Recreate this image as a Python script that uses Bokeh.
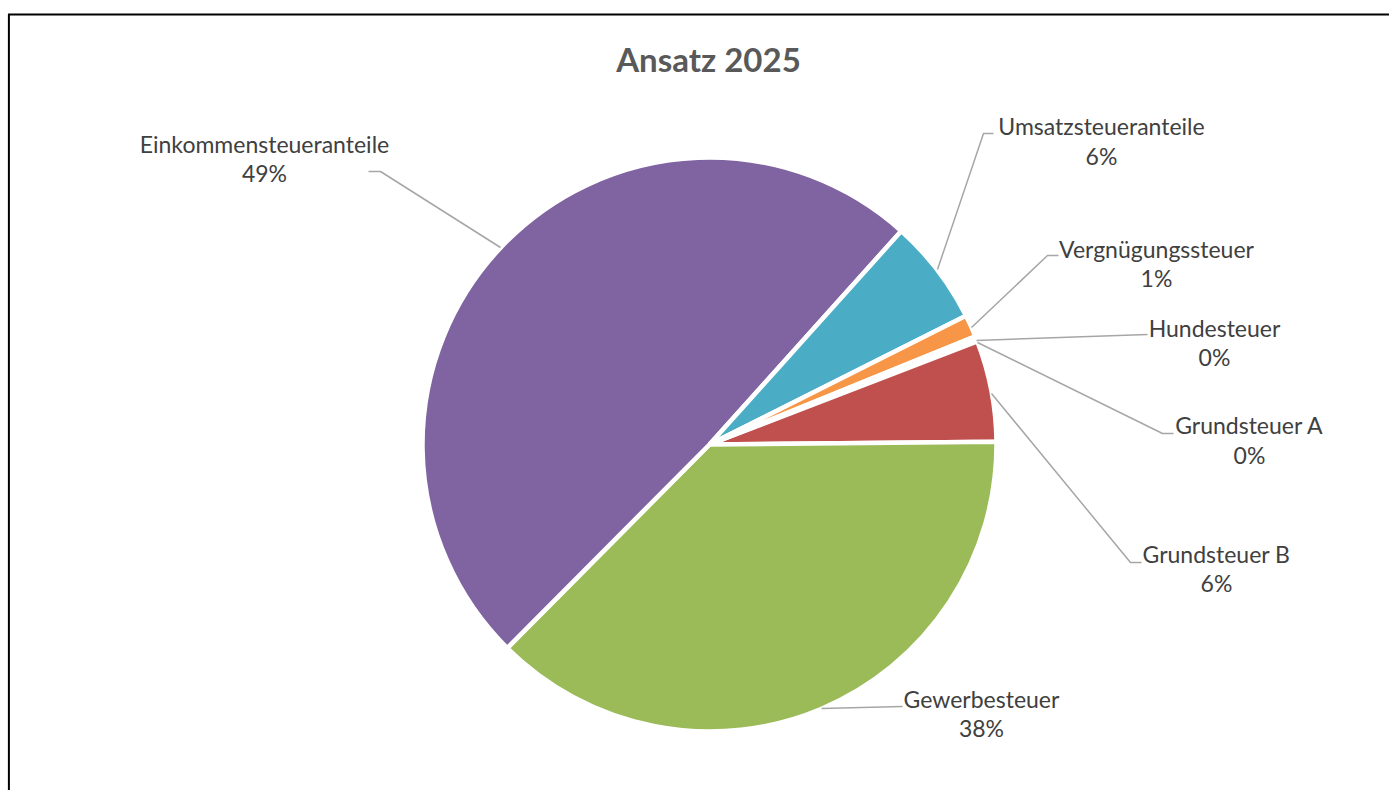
import math
from bokeh.plotting import figure
from bokeh.models import Range1d, ColumnDataSource
from bokeh.core.properties import value
from bokeh.embed import file_html
from bokeh.resources import INLINE

# ---- data ----
categories = ["Grundsteuer A", "Grundsteuer B", "Gewerbesteuer", "Einkommensteueranteile",
              "Umsatzsteueranteile", "Vergnügungssteuer", "Hundesteuer"]
shares = [0.15, 5.7, 37.6, 49.2, 5.95, 1.25, 0.15]
colors = ["#4F81BD", "#C0504D", "#9BBB59", "#8064A2", "#4BACC6", "#F79646", "#2C4D75"]
title_text = "Ansatz 2025"

# ---- layout (screen px) ----
W, H = 1389, 790
def sx(X): return X
def sy(Y): return H - Y

CX, CY, R = 709, 444, 287
first_angle_deg = 21.6

# label anchor: (center x, center y line1, center y line2)
label_pos = {
    "Einkommensteueranteile": (264, 143, 172),
    "Umsatzsteueranteile": (1101, 125.5, 155),
    "Vergnügungssteuer": (1156, 248.5, 277.5),
    "Hundesteuer": (1214, 327, 356),
    "Grundsteuer A": (1249, 424.5, 454.5),
    "Grundsteuer B": (1216, 553.5, 582.5),
    "Gewerbesteuer": (981, 698.5, 727.5),
}
leaders = {
    "Einkommensteueranteile": [(368, 171), (380, 171), (500, 247)],
    "Umsatzsteueranteile": [(993, 133), (983, 133), (937, 269)],
    "Vergnügungssteuer": [(1058, 255), (1047, 255), (971, 327)],
    "Hundesteuer": [(1147, 334), (976, 340)],
    "Grundsteuer A": [(1173, 433), (1162, 433), (977, 342)],
    "Grundsteuer B": [(1141, 562), (1130, 562), (991, 393)],
    "Gewerbesteuer": [(902, 706), (821, 708)],
}

p = figure(width=W, height=H, output_backend="svg", toolbar_location=None,
           x_range=Range1d(0, W), y_range=Range1d(0, H), min_border=0,
           tools="")
p.axis.visible = False
p.grid.visible = False
p.outline_line_color = None
p.background_fill_color = "white"
p.border_fill_color = "white"

# frame
p.line([sx(7.5), sx(W)], [sy(14), sy(14)], line_color="black", line_width=2)
p.line([sx(8.4), sx(8.4)], [sy(14), sy(H)], line_color="black", line_width=2)

total = sum(shares)
starts, ends = [], []
cum = 0.0
for v in shares:
    s = math.radians(first_angle_deg - cum / total * 360.0)
    e = math.radians(first_angle_deg - (cum + v) / total * 360.0)
    starts.append(s)
    ends.append(e)
    cum += v

src = ColumnDataSource(dict(x=[sx(CX)] * len(shares), y=[sy(CY)] * len(shares),
                            start=starts, end=ends, color=colors))
p.wedge(x="x", y="y", radius=R, start_angle="start", end_angle="end",
        direction="clock", fill_color="color", line_color="white", line_width=4.5,
        source=src)

# leader lines
for cat in categories:
    pts = leaders[cat]
    p.line([sx(a) for a, b in pts], [sy(b) for a, b in pts],
           line_color="#A6A6A6", line_width=1.5)

# labels
lx, ly, lt = [], [], []
for cat, v in zip(categories, shares):
    cx_, c1, c2 = label_pos[cat]
    pct = f"{round(v / total * 100):d}%"
    lx += [sx(cx_), sx(cx_)]
    ly += [sy(c1), sy(c2)]
    lt += [cat, pct]
p.text(x=lx, y=ly, text=lt, text_font=value("Lato"), text_font_size="23px",
       text_color="#404040", text_align="center", text_baseline="middle")

# title
p.text(x=[sx(708)], y=[sy(58)], text=[title_text], text_font=value("Lato"),
       text_font_size="33px", text_font_style="bold", text_color="#595959",
       text_align="center", text_baseline="middle")

open("out.html", "w").write(file_html(p, INLINE))
